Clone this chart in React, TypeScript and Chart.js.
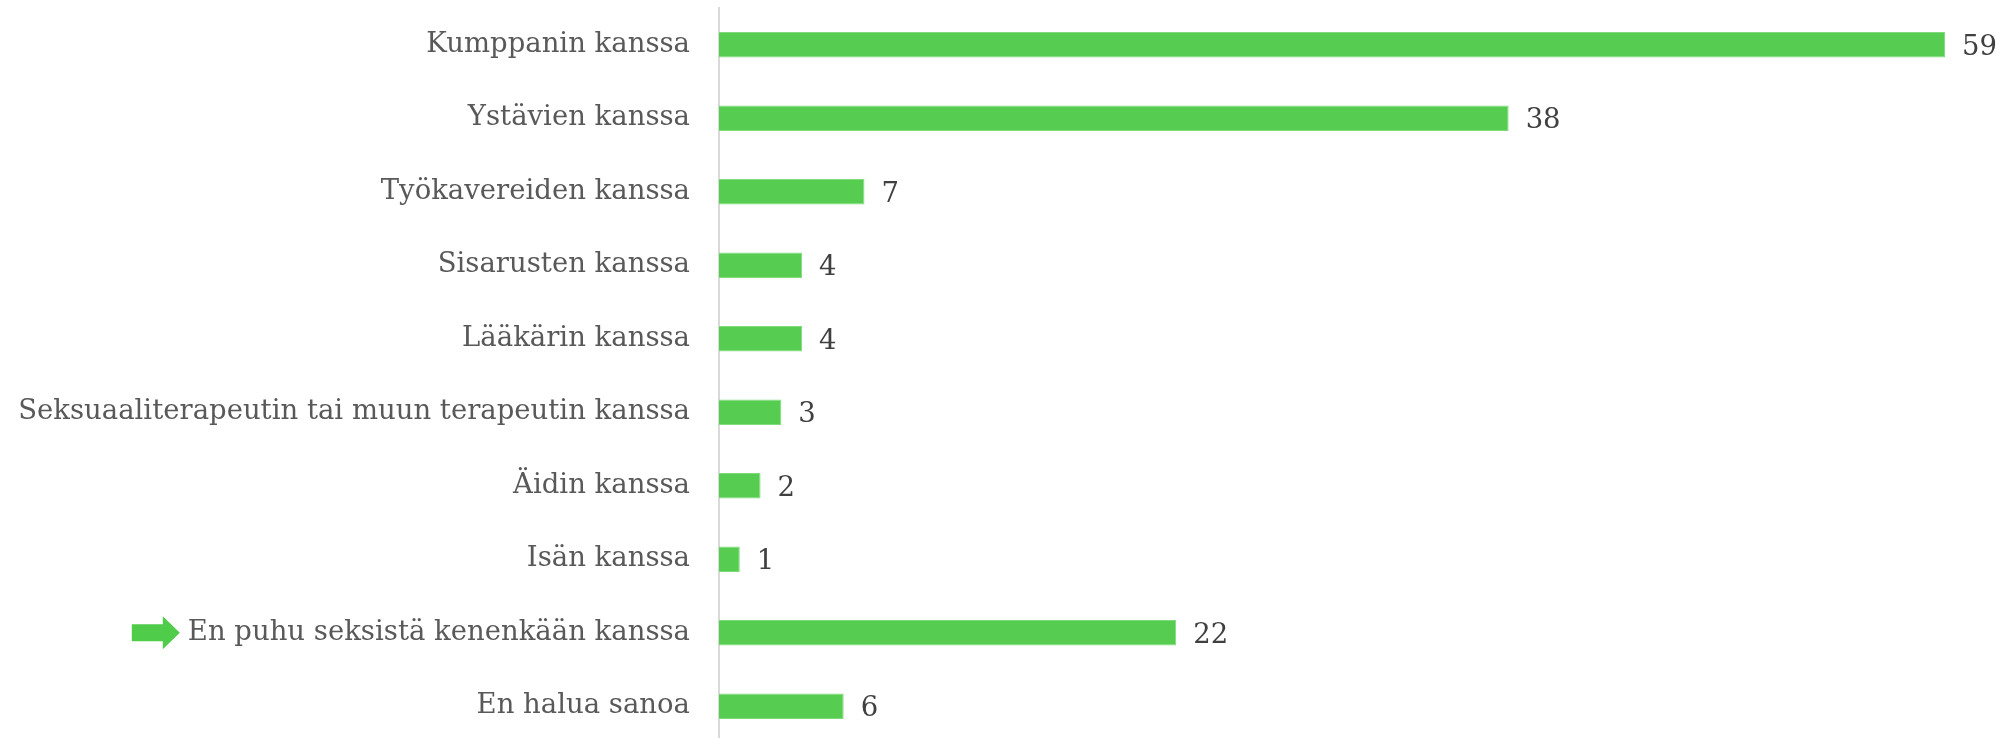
import React, { useEffect, useRef } from "react";
import { Chart, registerables } from "chart.js";

Chart.register(...registerables);

const categories: string[] = [
  "Kumppanin kanssa",
  "Ystävien kanssa",
  "Työkavereiden kanssa",
  "Sisarusten kanssa",
  "Lääkärin kanssa",
  "Seksuaaliterapeutin tai muun terapeutin kanssa",
  "Äidin kanssa",
  "Isän kanssa",
  "En puhu seksistä kenenkään kanssa",
  "En halua sanoa",
];

const values: number[] = [59, 38, 7, 4, 4, 3, 2, 1, 22, 6];

const highlightedCategory = "En puhu seksistä kenenkään kanssa";

const FONT_FAMILY = "'DejaVu Serif', Georgia, serif";
const FONT_SIZE = 27.5;

const valueLabelPlugin = {
  id: "valueLabels",
  afterDatasetsDraw(chart: any) {
    const ctx = chart.ctx;
    const meta = chart.getDatasetMeta(0);
    ctx.save();
    ctx.font = `${FONT_SIZE}px ${FONT_FAMILY}`;
    ctx.fillStyle = "#404040";
    ctx.textAlign = "left";
    ctx.textBaseline = "middle";
    meta.data.forEach((el: any, i: number) => {
      ctx.fillText(String(values[i]), el.x + 17, el.y + 3);
    });
    ctx.restore();
  },
};

const arrowPlugin = {
  id: "arrowMarker",
  afterDraw(chart: any) {
    const idx = categories.indexOf(highlightedCategory);
    if (idx < 0) return;
    const yScale = chart.scales.y;
    const ctx = chart.ctx;
    ctx.save();
    ctx.font = `${FONT_SIZE}px ${FONT_FAMILY}`;
    const w = ctx.measureText(categories[idx]).width;
    const labelRight = yScale.right - 29;
    const right = labelRight - w - 8;
    const y = yScale.getPixelForTick(idx);
    const headW = 17;
    const bodyW = 31;
    const bodyH = 17;
    const headH = 33;
    ctx.fillStyle = "#4FCC49";
    ctx.beginPath();
    ctx.moveTo(right - headW - bodyW, y - bodyH / 2);
    ctx.lineTo(right - headW, y - bodyH / 2);
    ctx.lineTo(right - headW, y - headH / 2);
    ctx.lineTo(right, y);
    ctx.lineTo(right - headW, y + headH / 2);
    ctx.lineTo(right - headW, y + bodyH / 2);
    ctx.lineTo(right - headW - bodyW, y + bodyH / 2);
    ctx.closePath();
    ctx.fill();
    ctx.restore();
  },
};

export default function App() {
  const canvasRef = useRef<HTMLCanvasElement | null>(null);

  useEffect(() => {
    if (!canvasRef.current) return;
    const chart = new Chart(canvasRef.current, {
      type: "bar",
      data: {
        labels: categories,
        datasets: [
          {
            data: values,
            backgroundColor: "#56CD51",
            borderColor: "#7FDB7B",
            borderWidth: 1,
            barPercentage: 0.35,
            categoryPercentage: 1,
          },
        ],
      },
      options: {
        indexAxis: "y",
        animation: false,
        responsive: false,
        maintainAspectRatio: false,
        layout: { padding: { top: 8, bottom: 7, right: 61, left: 0 } },
        plugins: {
          legend: { display: false },
          tooltip: { enabled: false },
        },
        scales: {
          x: {
            display: false,
            min: 0,
            max: 59,
          },
          y: {
            afterFit: (s: any) => {
              s.width = 719;
              s.paddingTop = 0;
              s.paddingBottom = 0;
            },
            grid: { display: false, drawTicks: false },
            border: { display: true, color: "#D9D9D9", width: 2 },
            ticks: {
              padding: 29,
              color: "#595959",
              font: { family: FONT_FAMILY, size: FONT_SIZE },
            },
          },
        },
      },
      plugins: [valueLabelPlugin, arrowPlugin],
    });
    return () => chart.destroy();
  }, []);

  return (
    <div
      style={{
        position: "fixed",
        top: 0,
        left: 0,
        width: 2006,
        height: 738,
        overflow: "hidden",
        background: "#ffffff",
      }}
    >
      <canvas ref={canvasRef} width={2006} height={750} style={{ display: "block" }} />
    </div>
  );
}
